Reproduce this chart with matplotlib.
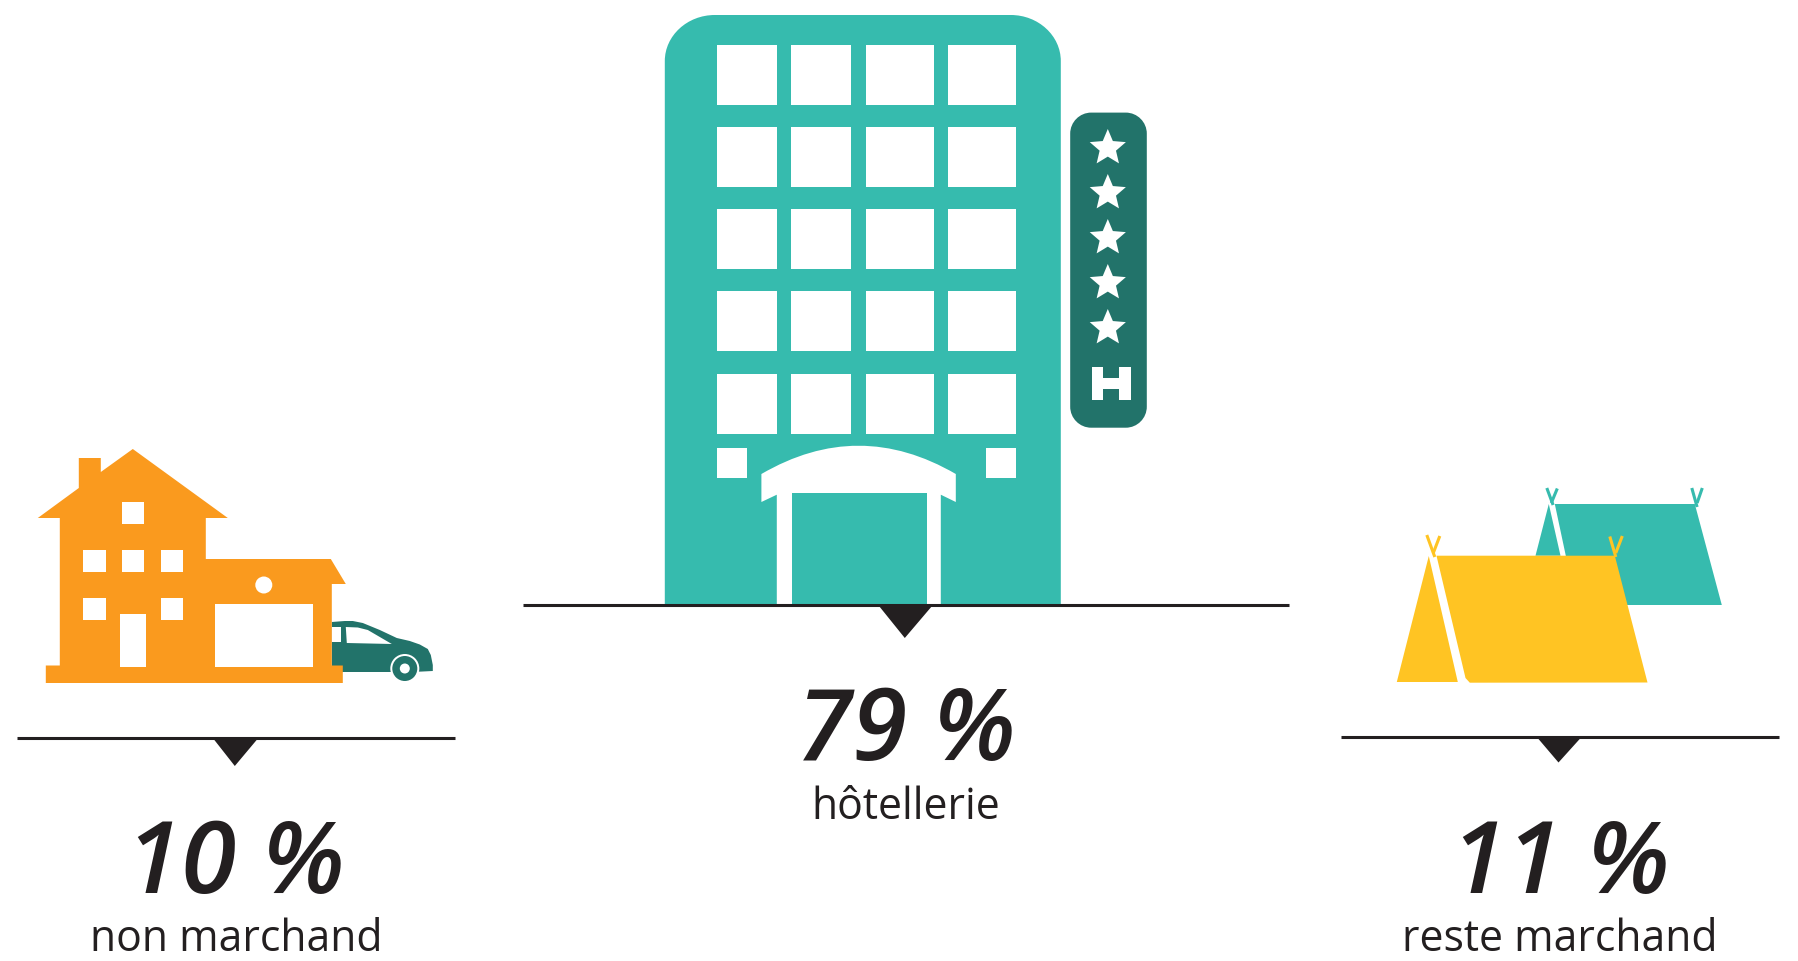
import numpy as np
import matplotlib
matplotlib.use("Agg")
import matplotlib.pyplot as plt
from matplotlib.patches import Polygon, Rectangle, Circle, PathPatch
from matplotlib.path import Path

# shares of the three kinds of lodging
categories = ["non marchand", "hôtellerie", "reste marchand"]
shares = [10, 79, 11]

TEAL = "#36BBAE"
DARK_TEAL = "#22736A"
ORANGE = "#FA9A1E"
YELLOW = "#FFC423"
INK = "#231F20"
WHITE = "#FFFFFF"

fig = plt.figure(figsize=(17.98, 9.62), dpi=100)
ax = fig.add_axes([0, 0, 1, 1])
ax.set_xlim(0.2, 1798.2)
ax.set_ylim(961, -1)
ax.axis("off")


def poly(points, color, z=2):
    ax.add_patch(Polygon(points, closed=True, facecolor=color, edgecolor="none", zorder=z))


def rect(x0, y0, x1, y1, color, z=3):
    ax.add_patch(Rectangle((x0, y0), x1 - x0, y1 - y0, facecolor=color, edgecolor="none", zorder=z))


def rounded(x0, y0, x1, y1, rx, ry, color, z=2, bottom=True):
    k = 0.55
    verts = [(x0 + rx, y0), (x1 - rx, y0),
             (x1 - rx + k * rx, y0), (x1, y0 + ry - k * ry), (x1, y0 + ry)]
    codes = [Path.MOVETO, Path.LINETO, Path.CURVE4, Path.CURVE4, Path.CURVE4]
    if bottom:
        verts += [(x1, y1 - ry), (x1, y1 - ry + k * ry), (x1 - rx + k * rx, y1), (x1 - rx, y1),
                  (x0 + rx, y1), (x0 + rx - k * rx, y1), (x0, y1 - ry + k * ry), (x0, y1 - ry)]
        codes += [Path.LINETO, Path.CURVE4, Path.CURVE4, Path.CURVE4,
                  Path.LINETO, Path.CURVE4, Path.CURVE4, Path.CURVE4]
    else:
        verts += [(x1, y1), (x0, y1)]
        codes += [Path.LINETO, Path.LINETO]
    verts += [(x0, y0 + ry), (x0, y0 + ry - k * ry), (x0 + rx - k * rx, y0), (x0 + rx, y0)]
    codes += [Path.LINETO, Path.CURVE4, Path.CURVE4, Path.CURVE4]
    ax.add_patch(PathPatch(Path(verts, codes), facecolor=color, edgecolor="none", zorder=z))


def star(cx, cy, r_out=19, r_in=8.6):
    angles = -np.pi / 2 + np.arange(10) * np.pi / 5
    radii = np.where(np.arange(10) % 2 == 0, r_out, r_in)
    poly(np.column_stack([cx + radii * np.cos(angles), cy + radii * np.sin(angles)]), WHITE, 4)


def pointer(x0, x1, y, tip_x, tip_y, left, right):
    ax.plot([x0, x1], [y, y], color=INK, lw=2.2, solid_capstyle="butt", zorder=5)
    poly([(left, y), (right, y), (tip_x, tip_y)], INK, 5)


def labels(i, cx_num, cx_txt, base_num, base_txt, size=72):
    ax.text(cx_num, base_num, f"{shares[i]} %", ha="center", va="baseline", color=INK,
            family="Open Sans", weight=600, style="italic", fontsize=size)
    ax.text(cx_txt, base_txt, categories[i], ha="center", va="baseline", color=INK,
            family="Open Sans", fontsize=30.8)


# ── house and car ───────────────────────────────────────────────────────
car_body = [(332, 622), (345, 621), (353, 621), (363, 623), (380, 630), (397, 638),
            (410, 641), (420, 644.5), (428, 649), (431, 655), (433, 665), (433, 671),
            (421, 671.6), (390, 672), (332, 672)]
poly(car_body, DARK_TEAL, 2)
ax.add_patch(Circle((405, 668.5), 14.5, facecolor=WHITE, edgecolor="none", zorder=3))
ax.add_patch(Circle((405, 668.5), 12.5, facecolor=DARK_TEAL, edgecolor="none", zorder=3))
ax.add_patch(Circle((405, 668.5), 5, facecolor=WHITE, edgecolor="none", zorder=3))
rect(332, 627, 341, 642, WHITE)
poly([(346, 627), (358, 627.5), (368, 630), (392, 644), (347, 643)], WHITE, 3)

house = [(133, 449), (228, 518), (206, 518), (206, 559), (331, 559), (346, 584), (332, 584),
         (332, 665.5), (343, 665.5), (343, 683), (46, 683), (46, 665.5), (60, 665.5), (60, 518),
         (38, 518), (79, 488), (79, 458), (101, 458), (101, 472)]
poly(house, ORANGE, 4)
for x0, x1, y0, y1 in [(122, 144, 502, 524), (83, 106, 550, 572), (122, 144, 550, 572),
                       (161, 183, 550, 572), (83, 106, 598, 620), (161, 183, 598, 620),
                       (120, 146, 614, 666.5), (215, 313, 604, 666.5)]:
    rect(x0, y0, x1, y1, WHITE, 5)
ax.add_patch(Circle((264, 585), 8.5, facecolor=WHITE, edgecolor="none", zorder=5))

# ── hotel ───────────────────────────────────────────────────────────────
rounded(665, 15, 1061, 604, 50, 46, TEAL, bottom=False)
for x0, x1 in [(717, 777), (791.5, 851.5), (866, 934), (948.5, 1016)]:
    for y0, y1 in [(45, 105), (126.5, 186.5), (209, 268.6), (291, 351), (373.5, 433.5)]:
        rect(x0, y0, x1, y1, WHITE)
rect(717, 448, 747, 478, WHITE)
rect(986, 448, 1016, 478, WHITE)

canopy = Path([(761.6, 474), (858.7, 417.4), (956, 474), (956, 502), (941, 494.7), (941, 604),
               (777, 604), (777, 494.7), (761.6, 502), (761.6, 474)],
              [Path.MOVETO, Path.CURVE3, Path.CURVE3, Path.LINETO, Path.LINETO, Path.LINETO,
               Path.LINETO, Path.LINETO, Path.LINETO, Path.CLOSEPOLY])
ax.add_patch(PathPatch(canopy, facecolor=WHITE, edgecolor="none", zorder=3))
rect(792, 492.6, 927, 604, TEAL, 4)

rounded(1070.4, 112.6, 1147, 427.7, 21, 21, DARK_TEAL)
for cy in [148, 193, 238, 283, 328]:
    star(1108, cy)
rect(1092, 366.5, 1103.5, 400, WHITE)
rect(1119.5, 366.5, 1131, 400, WHITE)
rect(1103, 378.4, 1120, 389, WHITE)

# ── tents ───────────────────────────────────────────────────────────────
poly([(1549, 504), (1535.7, 555.7), (1560.7, 555.7)], TEAL)
poly([(1555, 504), (1695, 504), (1722, 605), (1590, 605), (1566, 555.7)], TEAL)
poly([(1429, 556), (1397, 682), (1458, 682)], YELLOW, 3)
poly([(1436.7, 555.7), (1615, 555.7), (1647.7, 682.5), (1470, 682.7), (1465.7, 678)], YELLOW, 3)

for pole_color, z, forks in [
    (TEAL, 2, [((1547, 488), (1553.3, 505)), ((1557.5, 488.5), (1551.5, 503)),
               ((1692, 488), (1697.3, 507)), ((1702.5, 488), (1697.3, 503))]),
    (YELLOW, 3, [((1427, 535), (1435, 557)), ((1440, 536), (1433.5, 553)),
                 ((1610, 536.5), (1616, 557)), ((1622.5, 536), (1616, 553))]),
]:
    for (x0, y0), (x1, y1) in forks:
        ax.plot([x0, x1], [y0, y1], color=pole_color, lw=2.2, solid_capstyle="butt", zorder=z)

# ── rules, pointers, figures ────────────────────────────────────────────
pointer(17, 455, 738, 235, 766, 213, 258.5)
pointer(523, 1289, 604.5, 905, 638, 878, 933.5)
pointer(1341, 1779, 737, 1558.7, 762.5, 1537, 1581.7)

labels(0, 236, 236, 892, 950)
labels(1, 906.5, 906, 759, 818)
labels(2, 1561, 1560, 892, 950)

fig.savefig("out.png", dpi=100, facecolor="white")
plt.close(fig)
